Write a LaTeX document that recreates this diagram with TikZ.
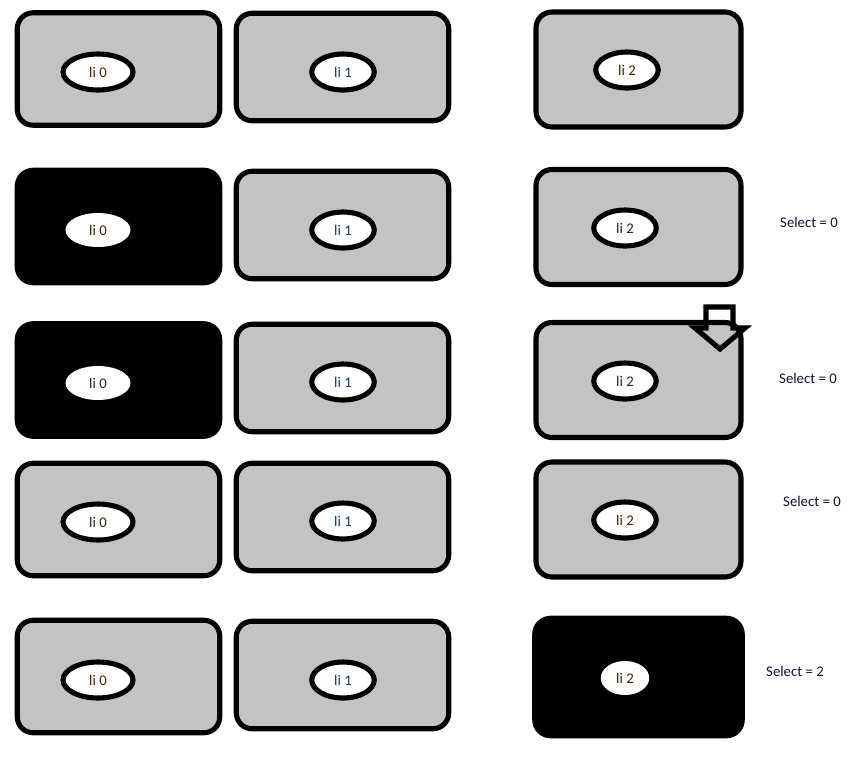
\documentclass[tikz,border=0pt]{standalone}
\usepackage{fontspec}
\setmainfont{Carlito}
\usetikzlibrary{positioning,shapes.geometric}
\definecolor{boxgray}{RGB}{195,195,195}
\definecolor{txtbrown}{RGB}{60,35,5}
\definecolor{txtblue}{RGB}{15,60,110}
\definecolor{txtnavy}{RGB}{10,20,50}

\begin{document}
\begin{tikzpicture}[
    x=0.02cm, y=-0.02cm,
    font=\fontsize{8.4}{10}\selectfont,
    card/.style={draw=black, line width=2.9pt, fill=boxgray, rounded corners=9pt,
      inner sep=0pt},
    cardA/.style={card, minimum width=4.05cm, minimum height=2.25cm},
    cardB/.style={card, minimum width=4.25cm, minimum height=2.15cm},
    cardC/.style={card, minimum width=4.1cm, minimum height=2.3cm},
    picked/.style={fill=black},
    item/.style={ellipse, draw=black, line width=2.9pt, fill=white, inner sep=0pt,
      minimum width=1.25cm, minimum height=0.72cm},
    pickeditem/.style={item, draw=none, minimum width=1.3cm, minimum height=0.68cm},
    sel/.style={text=txtnavy}
  ]
  \useasboundingbox (0,0) rectangle (856,762);

  % row 1
  \node[cardA] (a1) at (118.5,69) {};
  \node[cardB] (b1) at (342.5,67) {};
  \node[cardC] (c1) at (638.5,69.5) {};
  \node[item, minimum width=1.4cm] (i01) at (98,72) {\textcolor{txtbrown}{li 0}};
  \node[item] (i11) at (343,72) {\textcolor{txtblue}{li 1}};
  \node[item] (i21) at (627,70) {\textcolor{txtbrown}{li 2}};

  % row 2
  \node[cardA, picked] (a2) at (118.5,226.5) {};
  \node[cardB] (b2) at (342.5,225) {};
  \node[cardC] (c2) at (638.5,227) {};
  \node[pickeditem] (i02) at (98,230) {\textcolor{txtbrown}{li 0}};
  \node[item] (i12) at (343,230) {\textcolor{txtblue}{li 1}};
  \node[item] (i22) at (625,228) {\textcolor{txtbrown}{li 2}};
  \node[sel] (s2) at (809,222) {Select = 0};

  % row 3
  \node[cardA, picked] (a3) at (118.5,380) {};
  \node[cardB] (b3) at (342.5,378) {};
  \node[cardC] (c3) at (638.5,380) {};
  \node[pickeditem] (i03) at (98,383) {\textcolor{txtbrown}{li 0}};
  \node[item] (i13) at (343,382) {\textcolor{txtblue}{li 1}};
  \node[item] (i23) at (625,381) {\textcolor{txtbrown}{li 2}};
  \node[sel] (s3) at (808,378) {Select = 0};
  \draw[line width=2.9pt, line join=miter] (706,307) -- (733,307) -- (733,328)
    -- (745,328) -- (720,349) -- (695,328) -- (706,328) -- cycle;

  % row 4
  \node[cardA] (a4) at (118.5,519.5) {};
  \node[cardB] (b4) at (342.5,517) {};
  \node[cardC] (c4) at (638.5,519.5) {};
  \node[item, minimum width=1.4cm] (i04) at (98,522) {\textcolor{txtbrown}{li 0}};
  \node[item] (i14) at (343,521) {\textcolor{txtblue}{li 1}};
  \node[item] (i24) at (625,520) {\textcolor{txtbrown}{li 2}};
  \node[sel] (s4) at (812,501) {Select = 0};

  % row 5
  \node[cardA] (a5) at (118.5,676.5) {};
  \node[cardB] (b5) at (342.5,675) {};
  \node[cardC, picked, minimum width=4.15cm, minimum height=2.35cm] (c5) at (638.5,677) {};
  \node[item, minimum width=1.4cm] (i05) at (98,680) {\textcolor{txtbrown}{li 0}};
  \node[item] (i15) at (343,680) {\textcolor{txtblue}{li 1}};
  \node[pickeditem, minimum width=0.97cm] (i25) at (625,678) {\textcolor{txtbrown}{li 2}};
  \node[sel] (s5) at (795,671) {Select = 2};
\end{tikzpicture}
\end{document}
